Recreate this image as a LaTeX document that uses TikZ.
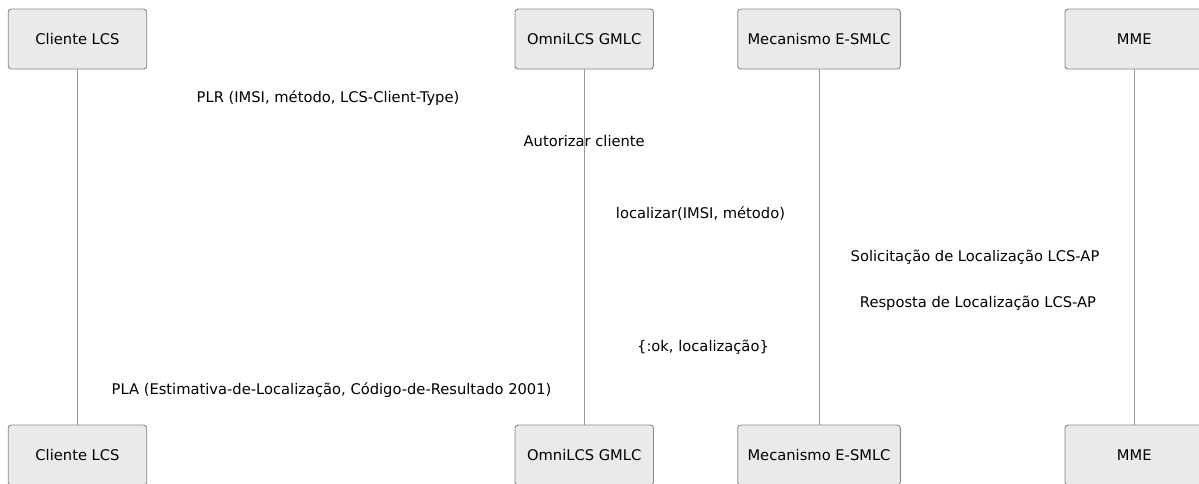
\documentclass[tikz,border=0pt]{standalone}
\usepackage{fontspec}
\setmainfont{DejaVu Sans}
\definecolor{boxfill}{HTML}{EAEAEA}
\definecolor{boxline}{HTML}{888888}
\definecolor{lifeline}{HTML}{999999}
\begin{document}
\begin{tikzpicture}[x=1pt,y=-1pt,
  font=\fontsize{14.7}{17}\selectfont,
  actor/.style={draw=boxline, fill=boxfill, rounded corners=3pt,
    minimum height=60pt, minimum width=138.5pt, inner sep=0pt, line width=0.9pt},
  life/.style={draw=lifeline, line width=0.9pt},
  msg/.style={anchor=base, inner sep=0pt}]
\fill[white] (0,0) rectangle (1199,483);
\useasboundingbox (0,0) rectangle (1199,483);
% top actors
\node[actor] (a1) at (77.5,39) {Cliente LCS};
\node[actor] (a2) at (584.2,39) {OmniLCS GMLC};
\node[actor, minimum width=162.6pt] (a3) at (819,39) {Mecanismo E-SMLC};
\node[actor] (a4) at (1134.2,39) {MME};
% bottom actors
\node[actor] (b1) at (77.5,455) {Cliente LCS};
\node[actor] (b2) at (584.2,455) {OmniLCS GMLC};
\node[actor, minimum width=162.6pt] (b3) at (819,455) {Mecanismo E-SMLC};
\node[actor] (b4) at (1134.2,455) {MME};
% lifelines
\draw[life] (a1.south) -- (b1.north);
\draw[life] (a2.south) -- (b2.north);
\draw[life] (a3.south) -- (b3.north);
\draw[life] (a4.south) -- (b4.north);
% message labels
\node[msg] (m1) at (328,102.3) {PLR (IMSI, método, LCS-Client-Type)};
\node[msg] (m2) at (584.2,146.5) {Autorizar cliente};
\node[msg] (m3) at (700.5,218.5) {localizar(IMSI, método)};
\node[msg] (m4) at (975,261.5) {Solicitação de Localização LCS-AP};
\node[msg] (m5) at (978,307) {Resposta de Localização LCS-AP};
\node[msg] (m6) at (703,351.5) {\{:ok, localização\}};
\node[msg] (m7) at (331.5,394.5) {PLA (Estimativa-de-Localização, Código-de-Resultado 2001)};
\end{tikzpicture}
\end{document}
